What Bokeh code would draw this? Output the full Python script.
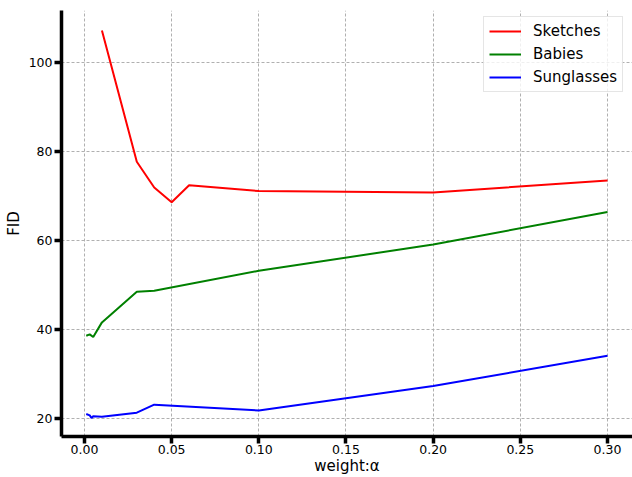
from bokeh.plotting import figure
from bokeh.models import FixedTicker, Range1d, NumeralTickFormatter
from bokeh.embed import file_html
from bokeh.resources import INLINE

# ---- data ----
alpha_sketches = [0.01, 0.03, 0.04, 0.05, 0.06, 0.10, 0.20, 0.30]
fid_sketches = [107.2, 77.7, 71.9, 68.6, 72.4, 71.1, 70.8, 73.5]

alpha_babies = [0.001, 0.003, 0.005, 0.01, 0.03, 0.04, 0.10, 0.20, 0.30]
fid_babies = [38.6, 38.9, 38.3, 41.6, 48.5, 48.7, 53.2, 59.1, 66.4]

alpha_sunglasses = [0.001, 0.003, 0.004, 0.005, 0.01, 0.03, 0.04, 0.10, 0.20, 0.30]
fid_sunglasses = [21.0, 20.7, 20.1, 20.5, 20.4, 21.3, 23.1, 21.8, 27.3, 34.1]

x_ticks = [0.0, 0.05, 0.10, 0.15, 0.20, 0.25, 0.30]
y_ticks = [20, 40, 60, 80, 100]

FONT = "DejaVu Sans"

p = figure(width=632, height=477, output_backend="svg", toolbar_location=None,
           x_range=Range1d(-0.013193, 0.314347), y_range=Range1d(15.955, 111.685),
           min_border_left=61, min_border_right=0, min_border_top=10,
           min_border_bottom=41)
p.outline_line_color = None
p.background_fill_color = "white"
p.border_fill_color = "white"

p.line(alpha_sketches, fid_sketches, color="#ff0000", line_width=2, legend_label="Sketches")
p.line(alpha_babies, fid_babies, color="#008000", line_width=2, legend_label="Babies")
p.line(alpha_sunglasses, fid_sunglasses, color="#0000ff", line_width=2, legend_label="Sunglasses")

p.xaxis.ticker = FixedTicker(ticks=x_ticks)
p.yaxis.ticker = FixedTicker(ticks=y_ticks)
p.xaxis.formatter = NumeralTickFormatter(format="0.00")
p.yaxis.formatter = NumeralTickFormatter(format="0")

for ax in (p.xaxis, p.yaxis):
    ax.axis_line_width = 3.5
    ax.axis_line_color = "black"
    ax.major_tick_line_width = 3.5
    ax.major_tick_line_color = "black"
    ax.major_tick_out = 7
    ax.major_tick_in = 0
    ax.minor_tick_line_color = None
    ax.major_label_text_font = FONT
    ax.major_label_text_font_size = "12.5px"
    ax.major_label_text_color = "black"
    ax.axis_label_text_font = FONT
    ax.axis_label_text_font_size = "15px"
    ax.axis_label_text_font_style = "normal"
    ax.axis_label_text_color = "black"

p.xaxis.axis_label = "weight:α"
p.yaxis.axis_label = "FID"
p.xaxis.major_label_standoff = 1
p.xaxis.axis_label_standoff = 0
p.yaxis.major_label_standoff = 2
p.yaxis.axis_label_standoff = 3

for g in (p.xgrid, p.ygrid):
    g.grid_line_color = "#b0b0b0"
    g.grid_line_dash = "3 2"
    g.grid_line_width = 1

lg = p.legend[0]
lg.location = (422, 344)
lg.margin = 0
lg.padding = 5
lg.spacing = 5
lg.label_height = 18
lg.glyph_height = 18
lg.glyph_width = 32
lg.label_standoff = 12
lg.label_text_font = FONT
lg.label_text_font_size = "15px"
lg.label_text_color = "black"
lg.border_line_color = "#cccccc"
lg.border_line_width = 1
lg.background_fill_alpha = 0.8

open("out.html", "w").write(file_html(p, INLINE))
